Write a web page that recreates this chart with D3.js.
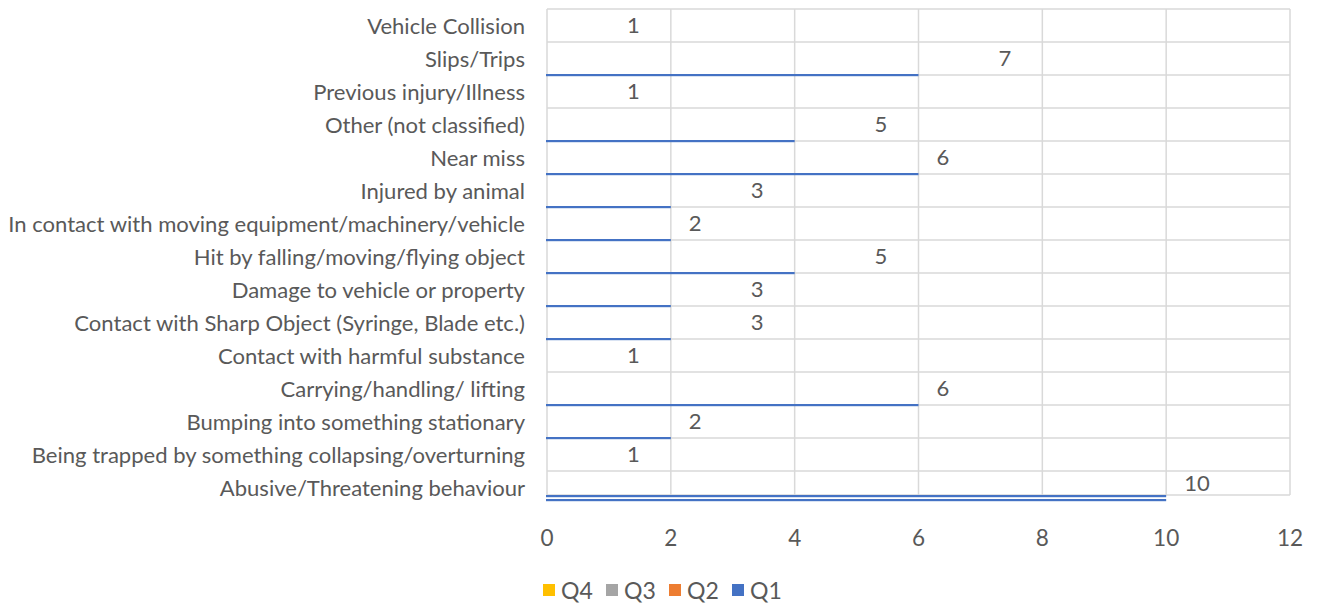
<!DOCTYPE html>
<html>
<head>
<meta charset="utf-8">
<script src="https://cdn.jsdelivr.net/npm/d3@7"></script>
<style>
  body { margin: 0; background: #fff; }
  text { font-family: Lato, "Open Sans", sans-serif; fill: #595959; }
</style>
</head>
<body>
<svg id="chart" width="1317" height="603"></svg>
<script>
// Categories, top to bottom as in the chart
var categories = [
    'Vehicle Collision',
    'Slips/Trips',
    'Previous injury/Illness',
    'Other (not classified)',
    'Near miss',
    'Injured by animal',
    'In contact with moving equipment/machinery/vehicle',
    'Hit by falling/moving/flying object',
    'Damage to vehicle or property',
    'Contact with Sharp Object (Syringe, Blade etc.)',
    'Contact with harmful substance',
    'Carrying/handling/ lifting',
    'Bumping into something stationary',
    'Being trapped by something collapsing/overturning',
    'Abusive/Threatening behaviour'
];
var q1Values = [1, 7, 1, 5, 6, 3, 2, 5, 3, 3, 1, 6, 2, 1, 10];
var seriesNames = ['Q4', 'Q3', 'Q2', 'Q1'];
var seriesColors = ['#FFC000', '#A5A5A5', '#ED7D31', '#4472C4'];
var xTicks = [0, 2, 4, 6, 8, 10, 12];

var svg = d3.select('#chart');
var plotLeft = 547, plotRight = 1290, plotTop = 9, plotBottom = 495;
var band = 33;

var x = d3.scaleLinear().domain([0, 12]).range([plotLeft, plotRight]);
var y = d3.scaleBand().domain(categories).range([plotTop, plotTop + band * categories.length]).padding(0);

var g = svg.append('g');

// сетка
g.selectAll('.vgrid').data(xTicks).enter().append('line')
    .attr('x1', d => x(d)).attr('x2', d => x(d))
    .attr('y1', plotTop).attr('y2', plotBottom)
    .attr('stroke', '#D9D9D9').attr('stroke-width', 1.5);

var hLines = categories.map(c => y(c)).concat([plotBottom]);
g.selectAll('.hgrid').data(hLines).enter().append('line')
    .attr('x1', plotLeft).attr('x2', plotRight)
    .attr('y1', d => d).attr('y2', d => d)
    .attr('stroke', '#D9D9D9').attr('stroke-width', 1.5);

// bars: rendered only up to the last gridline they reach, as thin lines
function shownEnd(v) {
    return d3.max(xTicks.filter(t => t <= v));
}
categories.forEach(function (c, i) {
    var v = q1Values[i];
    var w = x(shownEnd(v)) - x(0);
    if (w <= 0) return;
    var b = y(c) + y.bandwidth();
    if (b <= plotBottom) {
        g.append('rect').attr('x', x(0) - 1).attr('y', b - 1).attr('width', w + 1).attr('height', 2.2)
            .attr('fill', '#4472C4');
    } else {
        [plotBottom, plotBottom + 4].forEach(yy => {
            g.append('rect').attr('x', x(0) - 1).attr('y', yy).attr('width', w + 1).attr('height', 2.2)
                .attr('fill', '#4472C4');
        });
    }
});

var fontSize = 18.5;

// category labels
var catLabels = g.selectAll('.cat').data(categories).enter().append('text')
    .attr('x', 525)
    .attr('y', d => y(d) + y.bandwidth() / 2)
    .attr('text-anchor', 'end')
    .attr('dominant-baseline', 'central')
    .style('font-size', fontSize + 'px')
    .text(d => d);

// fit the longest label to the reference width
var maxW = d3.max(catLabels.nodes(), n => n.getComputedTextLength());
fontSize = fontSize * 517 / maxW;
catLabels.style('font-size', fontSize + 'px');

// data labels
g.selectAll('.val').data(categories).enter().append('text')
    .attr('x', (d, i) => x(q1Values[i]) + 18)
    .attr('y', d => (y(d) + Math.min(y(d) + y.bandwidth(), plotBottom)) / 2 - 1)
    .attr('dominant-baseline', 'central')
    .style('font-size', fontSize + 'px')
    .text((d, i) => q1Values[i]);

// x axis tick labels
g.selectAll('.xtick').data(xTicks).enter().append('text')
    .attr('x', d => x(d))
    .attr('y', 537)
    .attr('text-anchor', 'middle')
    .attr('dominant-baseline', 'central')
    .style('font-size', (fontSize + 0.5) + 'px')
    .text(d => d);

// legend
var legend = g.append('g');
var lx = 543;
seriesNames.forEach(function (s, i) {
    var item = legend.append('g').attr('transform', `translate(${lx + i * 63}, 590)`);
    item.append('rect').attr('x', 0).attr('y', -6).attr('width', 12).attr('height', 12)
        .attr('fill', seriesColors[i]);
    item.append('text').attr('x', 18).attr('y', 0)
        .attr('dominant-baseline', 'central')
        .style('font-size', (fontSize + 1) + 'px')
        .text(s);
});
</script>
</body>
</html>
